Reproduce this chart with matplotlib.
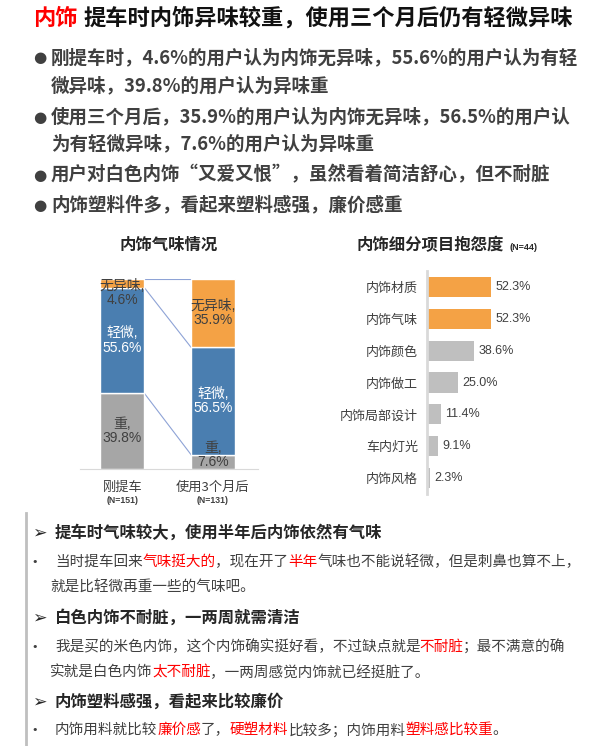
import matplotlib
matplotlib.use("Agg")
import matplotlib.pyplot as plt
from matplotlib.font_manager import FontProperties, findfont, get_font

plt.rcParams['font.family'] = ['Noto Sans CJK SC', 'DejaVu Sans']

W, H = 611, 746

# ---- data ----
odor_groups = ["刚提车", "使用3个月后"]
odor_n = ["(N=151)", "(N=131)"]
odor_heavy = [39.8, 7.6]
odor_light = [55.6, 56.5]
odor_none = [4.6, 35.9]

complaint_items = ["内饰材质", "内饰气味", "内饰颜色", "内饰做工", "内饰局部设计", "车内灯光", "内饰风格"]
complaint_pct = [52.3, 52.3, 38.6, 25.0, 11.4, 9.1, 2.3]
complaint_hot = [True, True, False, False, False, False, False]

title_key = "内饰"
title_rest = "提车时内饰异味较重，使用三个月后仍有轻微异味"

summary = [
    ["刚提车时，4.6%的用户认为内饰无异味，55.6%的用户认为有轻", "微异味，39.8%的用户认为异味重"],
    ["使用三个月后，35.9%的用户认为内饰无异味，56.5%的用户认", "为有轻微异味，7.6%的用户认为异味重"],
    ["用户对白色内饰“又爱又恨”，虽然看着简洁舒心，但不耐脏"],
    ["内饰塑料件多，看起来塑料感强，廉价感重"],
]

headings = ["提车时气味较大，使用半年后内饰依然有气味",
            "白色内饰不耐脏，一两周就需清洁",
            "内饰塑料感强，看起来比较廉价"]
# quote lines: (text, highlighted)
quotes = [
    [[("当时提车回来", 0), ("气味挺大的", 1), ("，现在开了", 0), ("半年", 1), ("气味也不能说轻微，但是刺鼻也算不上，", 0)],
     [("就是比轻微再重一些的气味吧。", 0)]],
    [[("我是买的米色内饰，这个内饰确实挺好看，不过缺点就是", 0), ("不耐脏", 1), ("；最不满意的确", 0)],
     [("实就是白色内饰", 0), ("太不耐脏", 1), ("，一两周感觉内饰就已经挺脏了。", 0)]],
    [[("内饰用料就比较", 0), ("廉价感", 1), ("了，", 0), ("硬塑材料", 1), ("比较多；内饰用料", 0), ("塑料感比较重", 1), ("。", 0)]],
]

ORANGE = "#F4A245"
BLUE = "#4A7EB0"
GRAY = "#A6A6A6"
LGRAY = "#BFBFBF"
RED = "#FF0000"
DARK = "#404040"

fig = plt.figure(figsize=(W / 100, H / 100), dpi=100)


def fx(x):
    return x / W


def fy(y):
    return 1 - y / H


def advance(s, size, weight="normal"):
    # pen advance of a string in pixels (dpi 100)
    fp = FontProperties(family="Noto Sans CJK SC", size=size, weight=weight)
    font = get_font(findfont(fp))
    font.set_size(size, 100)
    total = 0
    for ch in s:
        g = font.load_char(ord(ch))
        total += g.linearHoriAdvance / 65536
    return total


def draw_runs(x, y, parts, size, weight="normal"):
    # place coloured pieces one after another on a line
    for s, c in parts:
        fig.text(fx(x), fy(y), s, color=c, va="center", ha="left", fontsize=size, weight=weight)
        x += advance(s, size, weight)


# ---- header ----
fig.text(fx(33), fy(18), title_key, color=RED, fontsize=16, weight="bold", va="center")
fig.text(fx(83), fy(18), title_rest, color="#111111", fontsize=16, weight="bold", va="center")

line_y = [[58, 86], [117, 144], [175], [205]]
for lines, ys in zip(summary, line_y):
    fig.text(fx(40), fy(ys[0]), "●", color=DARK, fontsize=11, ha="center", va="center",
             family=["DejaVu Sans"])
    for s, yy in zip(lines, ys):
        fig.text(fx(51), fy(yy), s, color=DARK, fontsize=13.3, weight="bold", va="center")

# ---- left chart: odor stacked bars ----
fig.text(fx(169), fy(245), "内饰气味情况", color="#262626", fontsize=11.8, weight="bold",
         ha="center", va="center")
ax1 = fig.add_axes([fx(80), fy(469), 178 / W, 190 / H])
xs = [0, 1]
bw = 0.486
light_bottom = odor_heavy
none_bottom = [a + b for a, b in zip(odor_heavy, odor_light)]
ax1.bar(xs, odor_heavy, bw, color=GRAY, edgecolor="white", linewidth=1, zorder=2)
ax1.bar(xs, odor_light, bw, bottom=light_bottom, color=BLUE, edgecolor="white", linewidth=1, zorder=2)
ax1.bar(xs, odor_none, bw, bottom=none_bottom, color=ORANGE, edgecolor="white", linewidth=1, zorder=2)

# series lines between the bars
for lv in [odor_heavy, none_bottom, [100, 100]]:
    ax1.plot([bw / 2, 1 - bw / 2], lv, color="#8EA3D6", lw=0.8, zorder=1)

seg_font = ["Liberation Sans", "Noto Sans CJK SC"]
for i in xs:
    segs = [("重", odor_heavy[i], 0, DARK),
            ("轻微", odor_light[i], light_bottom[i], "white"),
            ("无异味", odor_none[i], none_bottom[i], DARK)]
    for name, v, b, c in segs:
        yc = min(max(b + v / 2, 7.4), 92.6)
        ax1.text(i, yc, f"{name},\n{v:.1f}%", color=c, ha="center", va="center",
                 fontsize=10, family=seg_font, linespacing=1.05, zorder=3)
    ax1.text(i, -0.095, odor_groups[i], transform=ax1.get_xaxis_transform(),
             ha="center", va="center", fontsize=9.5, color=DARK)
    ax1.text(i, -0.168, odor_n[i], transform=ax1.get_xaxis_transform(),
             ha="center", va="center", fontsize=6.3, weight="bold", color=DARK,
             family=["Liberation Sans"])

ax1.set_xlim(-0.468, 1.497)
ax1.set_ylim(0, 100)
for sp in ["top", "left", "right"]:
    ax1.spines[sp].set_visible(False)
ax1.spines["bottom"].set_color("#D9D9D9")
ax1.set_xticks([])
ax1.set_yticks([])
ax1.patch.set_alpha(0)

# ---- right chart: complaint bars ----
fig.text(fx(357), fy(245), "内饰细分项目抱怨度", color="#262626", fontsize=11.8, weight="bold",
         ha="left", va="center")
fig.text(fx(509), fy(247), "(N=44)", color="#262626", fontsize=6.5, weight="bold",
         ha="left", va="center", family=["Liberation Sans"])
ax2 = fig.add_axes([fx(427), fy(494), 150 / W, 223 / H])
ys2 = list(range(len(complaint_items)))
cols = [ORANGE if h else LGRAY for h in complaint_hot]
ax2.barh(ys2, complaint_pct, 0.63, color=cols, zorder=2)
for y, v in zip(ys2, complaint_pct):
    ax2.text(v + 3.5, y, f"{v:.1f}%", va="center", ha="left", fontsize=9, color=DARK,
             family=["Liberation Sans"])
ax2.set_xlim(0, 122.5)
ax2.set_ylim(6.5, -0.5)
ax2.set_yticks(ys2)
ax2.set_yticklabels(complaint_items, fontsize=9.4, color=DARK)
ax2.tick_params(axis="y", length=0, pad=6.5)
ax2.set_xticks([])
for sp in ["top", "bottom", "right"]:
    ax2.spines[sp].set_visible(False)
ax2.spines["left"].set_color("#D9D9D9")
ax2.spines["left"].set_linewidth(2)
ax2.patch.set_alpha(0)

# ---- bottom: user quotes ----
fig.add_artist(plt.Line2D([fx(26), fx(26)], [fy(513), 0], color=LGRAY, lw=2))
head_y = [533, 618, 702]
quote_y = [[562, 588], [647, 673], [730]]
for head, qlines, hy, qys in zip(headings, quotes, head_y, quote_y):
    fig.text(fx(32), fy(hy), "➢", color="#262626", fontsize=12.5, va="center",
             family=["DejaVu Sans"])
    fig.text(fx(55), fy(hy), head, color="#262626", fontsize=11.8, weight="bold", va="center")
    fig.text(fx(35), fy(qys[0]), "•", color=DARK, fontsize=8, ha="center", va="center",
             family=["DejaVu Sans"])
    for k, (parts, qy) in enumerate(zip(qlines, qys)):
        x0 = 55 if k == 0 else 50
        draw_runs(x0, qy, [(s, RED if hl else DARK) for s, hl in parts], 10.5)

fig.savefig("out.png", dpi=100)
